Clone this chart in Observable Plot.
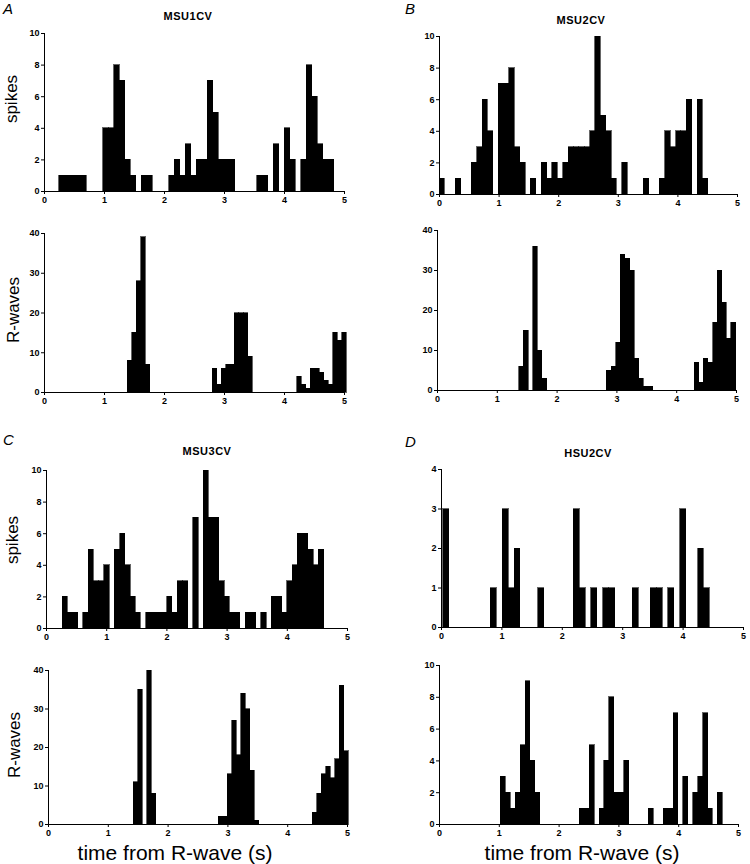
<!DOCTYPE html>
<html><head><meta charset="utf-8">
<script src="https://cdn.jsdelivr.net/npm/d3@7"></script>
<script src="https://cdn.jsdelivr.net/npm/@observablehq/plot@0.6"></script>
<style>
body{margin:0;background:#fff;}
#page{position:relative;width:750px;height:864px;overflow:hidden;font-family:Arial,"Liberation Sans",sans-serif;color:#000;}
.abs{position:absolute;white-space:nowrap;}
.letter{font-style:italic;font-size:15px;line-height:15px;}
.title{font-weight:bold;font-size:11px;letter-spacing:0.5px;transform:translate(-50%,-50%);}
.ylab{font-size:17px;transform:translate(-50%,-50%) rotate(-90deg);}
.xlab{font-size:21px;transform:translate(-50%,-50%);}
</style></head><body><div id="page"></div>
<script>
// ---------------- data ----------------
const timeTicks = [0, 1, 2, 3, 4, 5];
const spikeTicks = [0, 2, 4, 6, 8, 10];
const rwaveTicks = [0, 10, 20, 30, 40];
const hsuSpikeTicks = [0, 1, 2, 3, 4];
const hsuRwaveTicks = [0, 2, 4, 6, 8, 10];

// A: MSU1CV
const msu1Spikes = [1,1,1,1,1, 0,0,0, 4,4, 8,7,2,1,0, 1,1, 0,0,0, 1,2,1,3,1, 2,2, 7,5, 2,2,2, 0,0,0,0, 1,1, 0,3,0,4,2,0,2,8,6,3, 2,2];
const msu1SpikesStart = 0.244, msu1SpikesBin = 0.0917;
const msu1Rwaves = [8,15,28,39,7, 0,0,0,0,0,0,0,0,0,0,0,0,0,0, 6,2,6,7,7,20,20,20,9, 0,0,0,0,0,0,0,0,0,0, 4,2,1,6,6,5,3,2,15,13,15];
const msu1RwavesStart = 1.389, msu1RwavesBin = 0.0744;

// B: MSU2CV
const msu2Spikes = [1,0,0,1,0,0,2,3,6,4, 0,7,7,8,3,2,0,1,0,2, 1,2,1,2,3,3,3,3,4,10, 5,4,1,0,2,0,0,0,1,0, 0,1,4,3,4,4,6,0,6,1];
const msu2SpikesStart = 0.0, msu2SpikesBin = 0.0902;
const msu2Rwaves = [6,15,0,36,10,3, 0,0,0,0,0,0,0,0,0,0,0,0,0, 5,6,12,34,33,30,8,3,1,1, 0,0,0,0,0,0,0,0,0, 7,2,8,7,17,30,22,13,17];
const msu2RwavesStart = 1.369, msu2RwavesBin = 0.0771;

// C: MSU3CV
const msu3Spikes = [2,1,1,0,1,5,3,3,4,0, 5,6,4,2,1,0,1,1,1,1, 2,1,3,3,0,7,0,10,7,7, 3,2,1,1,0,1,1,0,1,0, 2,2,1,3,4,6,6,5,4,5];
const msu3SpikesStart = 0.266, msu3SpikesBin = 0.0869;
const msu3Rwaves = [11,35,0,40,8, 0,0,0,0,0,0,0,0,0,0,0,0,0,0, 2,2,13,27,18,34,30,14,1, 0,0,0,0,0,0,0,0,0,0,0,0, 3,8,13,15,12,17,36,19];
const msu3RwavesStart = 1.429, msu3RwavesBin = 0.0748;

// D: HSU2CV
const hsu2Spikes = [3,0,0,0,0,0,0,0,1,0, 3,1,2,0,0,0,1,0,0,0, 0,0,3,1,0,1,0,1,1,0, 0,0,1,0,0,1,1,0,1,0, 3,0,0,2,1];
const hsu2SpikesStart = 0.033, hsu2SpikesBin = 0.098;
const hsu2Rwaves = [3,2,1,2,5,9,4,2, 0,0,0,0,0,0,0,0, 1,1,5,0,1,4,8,2,2,4, 0,0,0,0, 1,0,0,1,1,7,0,3,0,2,3,7,1,0,2];
const hsu2RwavesStart = 1.026, hsu2RwavesBin = 0.0825;

// ---------------- layout ----------------
const page = document.getElementById("page");

function addText(cls, text, left, top) {
  const d = document.createElement("div");
  d.className = "abs " + cls;
  d.textContent = text;
  d.style.left = left + "px";
  d.style.top = top + "px";
  page.appendChild(d);
}

function panel(counts, start, bin, yMax, yTicks, box) {
  const mL = 30, mR = 14, mT = 8, mB = 20;
  const W = (box.x5 - box.x0) + mL + mR;
  const H = (box.yBot - box.yTop) + mT + mB;
  const bins = counts.map((c, i) => ({x1: start + i * bin, x2: start + (i + 1) * bin, c})).filter(d => d.c > 0);
  const svg = Plot.plot({
    width: W, height: H,
    marginLeft: mL, marginRight: mR, marginTop: mT, marginBottom: mB,
    x: {domain: [0, 5], axis: null},
    y: {domain: [0, yMax], axis: null},
    style: {fontFamily: "Arial, 'Liberation Sans', sans-serif", background: "transparent", color: "#000", overflow: "visible"},
    marks: [
      Plot.rectY(bins, {x1: "x1", x2: "x2", y: "c", fill: "#000", stroke: "#000", strokeWidth: 0.6, inset: 0, shapeRendering: "crispEdges"}),
      Plot.ruleY([0], {stroke: "#000", strokeWidth: 1}),
      Plot.ruleX([0], {stroke: "#000", strokeWidth: 1}),
      Plot.axisX({ticks: timeTicks, tickFormat: d => String(d), tickSize: 3, tickPadding: 2, fontSize: 9, fontWeight: "bold", label: null}),
      Plot.axisY({ticks: yTicks, tickFormat: d => String(d), tickSize: 3, tickPadding: 2, fontSize: 9, fontWeight: "bold", label: null})
    ]
  });
  svg.style.position = "absolute";
  svg.style.left = (box.x0 - mL) + "px";
  svg.style.top = (box.yTop - mT) + "px";
  page.appendChild(svg);
}

panel(msu1Spikes, msu1SpikesStart, msu1SpikesBin, 10, spikeTicks, {x0: 44, x5: 344, yTop: 33, yBot: 191});
panel(msu1Rwaves, msu1RwavesStart, msu1RwavesBin, 40, rwaveTicks, {x0: 44, x5: 344, yTop: 233, yBot: 392});
panel(msu2Spikes, msu2SpikesStart, msu2SpikesBin, 10, spikeTicks, {x0: 439, x5: 737, yTop: 36, yBot: 194});
panel(msu2Rwaves, msu2RwavesStart, msu2RwavesBin, 40, rwaveTicks, {x0: 437, x5: 736, yTop: 230, yBot: 390});
panel(msu3Spikes, msu3SpikesStart, msu3SpikesBin, 10, spikeTicks, {x0: 46, x5: 347, yTop: 470, yBot: 628});
panel(msu3Rwaves, msu3RwavesStart, msu3RwavesBin, 40, rwaveTicks, {x0: 48, x5: 347, yTop: 670, yBot: 824});
panel(hsu2Spikes, hsu2SpikesStart, hsu2SpikesBin, 4, hsuSpikeTicks, {x0: 441, x5: 743, yTop: 469, yBot: 627});
panel(hsu2Rwaves, hsu2RwavesStart, hsu2RwavesBin, 10, hsuRwaveTicks, {x0: 439, x5: 738, yTop: 665, yBot: 824});

addText("letter", "A", 3, 1);
addText("letter", "B", 405, 1);
addText("letter", "C", 3, 432);
addText("letter", "D", 405, 434);
addText("title", "MSU1CV", 188, 16);
addText("title", "MSU2CV", 581, 20);
addText("title", "MSU3CV", 207, 451);
addText("title", "HSU2CV", 588, 453);
addText("ylab", "spikes", 12, 99);
addText("ylab", "R-waves", 14, 310);
addText("ylab", "spikes", 13, 540);
addText("ylab", "R-waves", 15, 745);
addText("xlab", "time from R-wave (s)", 175, 853);
addText("xlab", "time from R-wave (s)", 582, 853);
</script></body></html>
